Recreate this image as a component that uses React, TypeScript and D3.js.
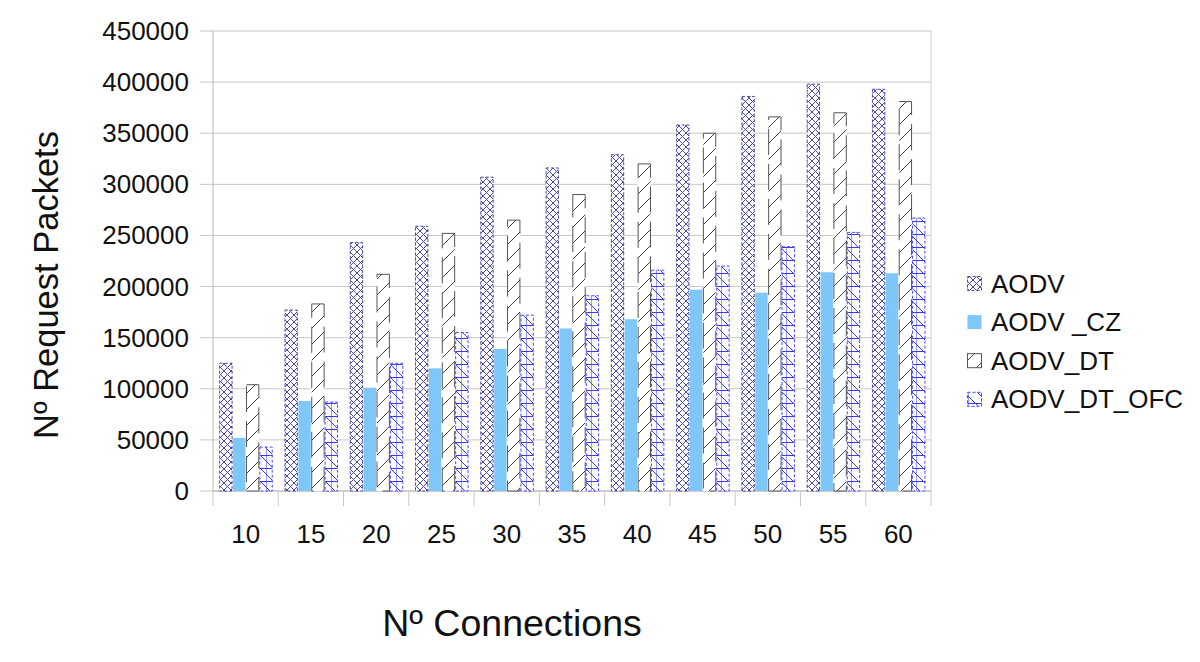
import React from "react";
import * as d3 from "d3";

const categories = ["10", "15", "20", "25", "30", "35", "40", "45", "50", "55", "60"];
const seriesNames = ["AODV", "AODV _CZ", "AODV_DT", "AODV_DT_OFC"];
const aodv = [125000, 177000, 243000, 259000, 307000, 316000, 329000, 358000, 386000, 398000, 393000];
const aodvCz = [52000, 88000, 101000, 120000, 139000, 159000, 168000, 197000, 194000, 214000, 213000];
const aodvDt = [104000, 183000, 212000, 252000, 265000, 290000, 320000, 350000, 366000, 370000, 381000];
const aodvDtOfc = [43000, 87000, 125000, 155000, 172000, 191000, 216000, 220000, 239000, 253000, 267000];
const yTicks = [0, 50000, 100000, 150000, 200000, 250000, 300000, 350000, 400000, 450000];

const seriesValues = [aodv, aodvCz, aodvDt, aodvDtOfc];

const W = 1200;
const H = 662;
const left = 213;
const right = 931;
const top = 31;
const bottom = 491;

const fills = ["url(#pAodv)", "#7fc7f9", "url(#pDt)", "url(#pOfc)"];
const strokes = ["#4a4aa0", "none", "#555", "#4a4aff"];
const dashes = ["3 2", undefined, "26 9", "3 2"];

const FONT = "'Liberation Sans', Arial, Helvetica, sans-serif";

export default function App() {
  const x0 = d3.scaleBand<string>().domain(categories).range([left, right]).padding(0);
  const bw = x0.bandwidth();
  const x1 = d3
    .scaleBand<string>()
    .domain(seriesNames)
    .range([bw * 0.095, bw * 0.915])
    .padding(0);
  const y = d3.scaleLinear().domain([0, 450000]).range([bottom, top]);

  const boundaries = categories.map((c) => x0(c) as number).concat([right]);

  return (
    <svg width={W} height={H} style={{ position: "absolute", left: 0, top: 0, background: "#fff" }}>
      <defs>
        <pattern id="pAodv" patternUnits="userSpaceOnUse" width={7} height={7}>
          <rect width={7} height={7} fill="#fff" />
          <path d="M0,0 L7,7 M7,0 L0,7" stroke="#4a4aa8" strokeWidth={1} />
        </pattern>
        <pattern id="pDt" patternUnits="userSpaceOnUse" width={16} height={16}>
          <rect width={16} height={16} fill="#fff" />
          <path d="M0,16 L16,0 M-4,4 L4,-4 M12,20 L20,12" stroke="#444" strokeWidth={1} />
        </pattern>
        <pattern id="pOfc" patternUnits="userSpaceOnUse" width={13} height={13}>
          <rect width={13} height={13} fill="#fff" />
          <path d="M6.5,0 L6.5,13" stroke="#9a9aff" strokeWidth={1} />
          <path d="M0,0.5 L13,0.5 M0,0 L13,13" stroke="#3a3aee" strokeWidth={1} />
        </pattern>
      </defs>

      {/* gridlines */}
      {yTicks.map((t) => (
        <line key={"g" + t} x1={200} x2={right} y1={y(t)} y2={y(t)} stroke="#c8c8c8" strokeWidth={1} />
      ))}
      {/* axes frame */}
      <line x1={left} x2={left} y1={top} y2={bottom} stroke="#b8b8b8" />
      <line x1={right} x2={right} y1={top} y2={bottom} stroke="#d0d0d0" />
      <line x1={left} x2={right} y1={bottom} y2={bottom} stroke="#b8b8b8" />
      {boundaries.map((b, i) => (
        <line key={"xt" + i} x1={b} x2={b} y1={bottom} y2={506} stroke="#c8c8c8" />
      ))}

      {/* bars */}
      {categories.map((c, ci) => (
        <g key={c}>
          {seriesNames.map((s, si) => {
            const v = seriesValues[si][ci];
            const bx = (x0(c) as number) + (x1(s) as number);
            const w = x1.bandwidth();
            return (
              <rect
                key={s}
                x={bx + 0.5}
                y={y(v)}
                width={w - 1}
                height={bottom - y(v)}
                fill={fills[si]}
                stroke={strokes[si]}
                strokeWidth={1}
                strokeDasharray={dashes[si]}
              />
            );
          })}
        </g>
      ))}

      {/* y tick labels */}
      {yTicks.map((t) => (
        <text
          key={"yl" + t}
          x={189}
          y={y(t)}
          textAnchor="end"
          dominantBaseline="central"
          fontFamily={FONT}
          fontSize={26}
          fill="#111"
        >
          {t}
        </text>
      ))}

      {/* x tick labels */}
      {categories.map((c) => (
        <text
          key={"xl" + c}
          x={(x0(c) as number) + bw / 2}
          y={534}
          textAnchor="middle"
          dominantBaseline="central"
          fontFamily={FONT}
          fontSize={26}
          fill="#111"
        >
          {c}
        </text>
      ))}

      {/* axis titles */}
      <text x={512} y={636} textAnchor="middle" fontFamily={FONT} fontSize={37.5} fill="#111">
        Nº Connections
      </text>
      <text
        transform={`translate(58,285) rotate(-90)`}
        textAnchor="middle"
        fontFamily={FONT}
        fontSize={34.5}
        fill="#111"
      >
        Nº Request Packets
      </text>

      {/* legend */}
      {seriesNames.map((s, i) => {
        const ly = 283.5 + i * 38.6;
        return (
          <g key={"lg" + s}>
            <rect
              x={967.5}
              y={ly - 7}
              width={14}
              height={14}
              fill={fills[i]}
              stroke={strokes[i]}
              strokeDasharray={i === 2 ? undefined : dashes[i]}
            />
            <text
              x={991}
              y={ly}
              dominantBaseline="central"
              fontFamily={FONT}
              fontSize={26}
              fill="#111"
            >
              {s}
            </text>
          </g>
        );
      })}
    </svg>
  );
}
